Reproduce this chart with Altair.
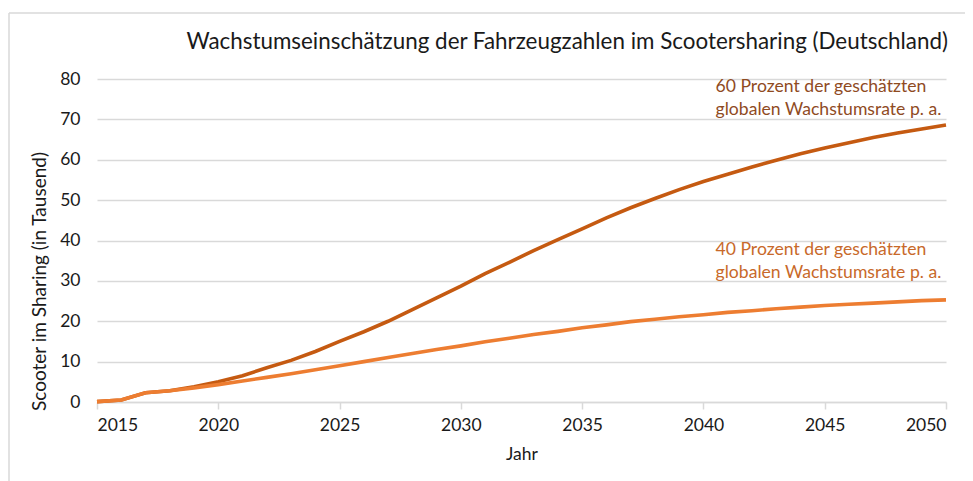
import altair as alt
import pandas as pd

years = list(range(2015, 2051))
high_60 = [0.1, 0.5, 2.3, 2.8, 3.8, 5.0, 6.5, 8.5, 10.3, 12.5,
           15.0, 17.4, 20.0, 22.9, 25.8, 28.7, 31.8, 34.6, 37.5, 40.2,
           42.9, 45.6, 48.1, 50.4, 52.6, 54.6, 56.4, 58.2, 59.9, 61.5,
           62.9, 64.2, 65.5, 66.6, 67.6, 68.6]
low_40 = [0.1, 0.5, 2.3, 2.8, 3.5, 4.3, 5.2, 6.1, 7.0, 8.0,
          9.0, 10.0, 11.0, 12.0, 13.0, 13.9, 14.9, 15.8, 16.7, 17.5,
          18.4, 19.1, 19.9, 20.5, 21.1, 21.6, 22.2, 22.6, 23.1, 23.5,
          23.9, 24.2, 24.5, 24.8, 25.1, 25.3]
series_names = ["60 Prozent", "40 Prozent"]
series_colors = ["#C55A11", "#ED7D31"]

label_texts = ["60 Prozent der geschätzten\nglobalen Wachstumsrate p. a.",
               "40 Prozent der geschätzten\nglobalen Wachstumsrate p. a."]
label_x = [2040.5, 2040.5]
label_y = [78.0, 37.6]
label_colors = ["#8F4B1F", "#C8692A"]

title_text = "Wachstumseinschätzung der Fahrzeugzahlen im Scootersharing (Deutschland)"
FONT = "Lato"
TXT = "#1a1a1a"

df = pd.DataFrame({
    "Jahr": years * 2,
    "Wert": high_60 + low_40,
    "Serie": [series_names[0]] * len(years) + [series_names[1]] * len(years),
})
lab = pd.DataFrame({"text": label_texts, "x": label_x, "y": label_y, "color": label_colors})

xscale = alt.Scale(domain=[2015, 2050], nice=False, zero=False)
yscale = alt.Scale(domain=[0, 80], nice=False)

lines = alt.Chart(df).mark_line(strokeWidth=3.6).encode(
    x=alt.X("Jahr:Q", scale=xscale,
            axis=alt.Axis(values=list(range(2015, 2051, 5)), format="d", title="Jahr",
                          grid=False, domainColor="#d9d9d9", domainWidth=1.5,
                          tickColor="#d9d9d9", tickSize=7, tickWidth=1.5,
                          labelFontSize=17.5, labelPadding=7, labelColor=TXT,
                          titleFontSize=17.5, titleFontWeight="normal", titleColor=TXT,
                          titlePadding=12, labelFont=FONT, titleFont=FONT)),
    y=alt.Y("Wert:Q", scale=yscale,
            axis=alt.Axis(values=list(range(0, 81, 10)), title="Scooter im Sharing (in Tausend)",
                          domain=False, ticks=False, gridColor="#d9d9d9", gridWidth=1.5,
                          labelFontSize=17.5, labelPadding=17, labelColor=TXT,
                          titleFontSize=19, titleFontWeight="normal", titleColor=TXT,
                          titlePadding=10, titleY=202, labelFont=FONT, titleFont=FONT)),
    color=alt.Color("Serie:N", scale=alt.Scale(domain=series_names, range=series_colors), legend=None),
    order=alt.Order("Serie:N", sort="ascending"),
)

labels = alt.Chart(lab).mark_text(align="left", baseline="middle", fontSize=17.6, font=FONT,
                                  lineBreak="\n", lineHeight=22.5).encode(
    x=alt.X("x:Q", scale=xscale),
    y=alt.Y("y:Q", scale=yscale),
    text="text:N",
    color=alt.Color("color:N", scale=None),
)

title = alt.Chart(pd.DataFrame({"t": [title_text]})).mark_text(
    align="right", baseline="middle", fontSize=22.4, font=FONT, color=TXT).encode(
    x=alt.value(851), y=alt.value(-37), text="t:N")

frame_top = alt.Chart(pd.DataFrame({"a": [0]})).mark_rule(color="#d9d9d9", strokeWidth=1.5).encode(
    x=alt.value(-88), x2=alt.value(900), y=alt.value(-66))
frame_left = alt.Chart(pd.DataFrame({"a": [0]})).mark_rule(color="#d9d9d9", strokeWidth=1.5).encode(
    x=alt.value(-88), y=alt.value(-66), y2=alt.value(420))

chart = alt.layer(frame_top, frame_left, lines, labels, title).properties(
    width=849, height=323,
    autosize=alt.AutoSizeParams(type="none"),
    padding={"left": 89, "top": 71, "right": 19, "bottom": 79},
).configure_view(stroke=None)

chart.save("out.html", embed_options={"renderer": "svg", "actions": False})
